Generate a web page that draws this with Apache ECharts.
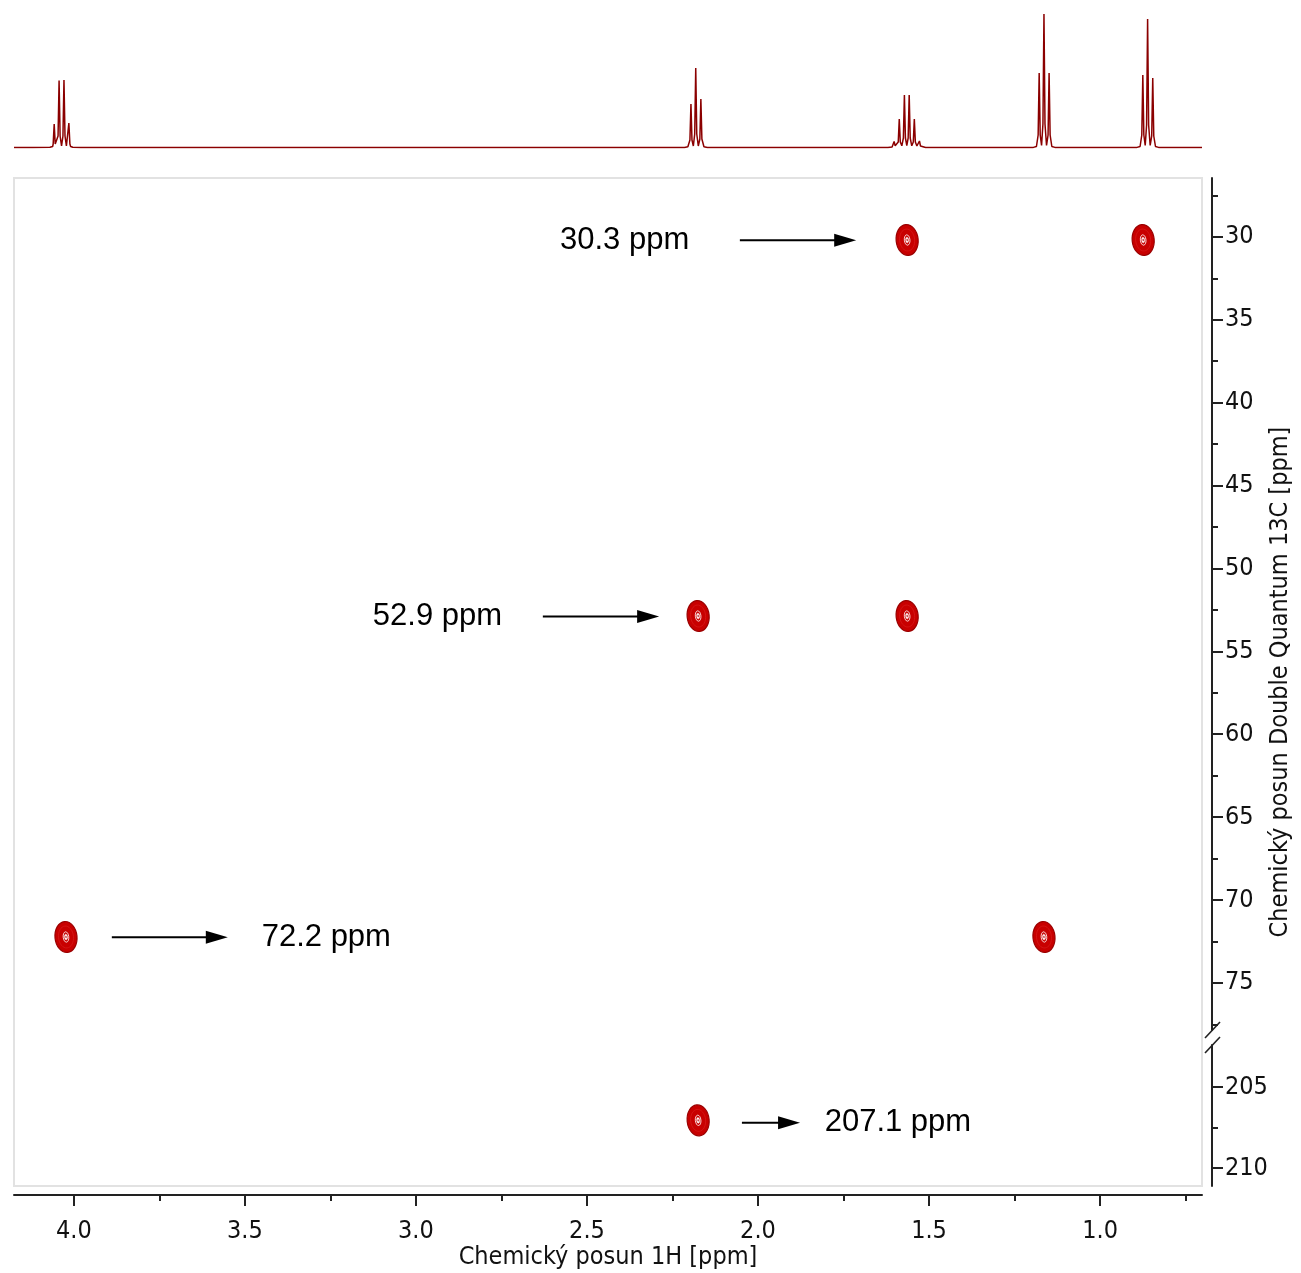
<!DOCTYPE html>
<html>
<head>
<meta charset="utf-8">
<script src="https://cdn.jsdelivr.net/npm/echarts@6.0.0/dist/echarts.min.js"></script>
<style>
html,body{margin:0;padding:0;background:#fff;}
#chart{width:1301px;height:1273px;}
</style>
</head>
<body>
<div id="chart"></div>
<script>
// ---------- data ----------
const X_MIN = 0.702, X_MAX = 4.175;            // 1H axis range (ppm)
const Y_UPPER = [26.45, 77.84];                 // upper 13C DQ segment (ppm)
const Y_LOWER = [202.4, 211.1];                 // lower 13C DQ segment (ppm)

const xTicks = [4.0, 3.5, 3.0, 2.5, 2.0, 1.5, 1.0];
const xMinorTicks = [3.75, 3.25, 2.75, 2.25, 1.75, 1.25, 0.75];
const yUpperTicks = [30, 35, 40, 45, 50, 55, 60, 65, 70, 75];
const yUpperMinorTicks = [27.5, 32.5, 37.5, 42.5, 47.5, 52.5, 57.5, 62.5, 67.5, 72.5, 77.5];
const yLowerTicks = [205, 210];
const yLowerMinorTicks = [207.5];

// 1D 1H projection [ppm, intensity]
const spectrum1H = [
  [4.175, 0.5], [4.120, 0.6], [4.070, 0.8], [4.062, 1.5], [4.0605, 4], [4.0575, 24], [4.0545, 4], [4.0503, 2],
  [4.0462, 12], [4.0432, 67.5], [4.0402, 12], [4.0360, 2], [4.0319, 12], [4.0289, 68], [4.0259, 12],
  [4.0218, 2], [4.0176, 4], [4.0146, 25], [4.0116, 4], [4.0095, 1.5], [4.003, 0.8], [3.98, 0.5],
  [3.50, 0.4], [3.00, 0.5], [2.60, 0.4], [2.30, 0.5],
  [2.215, 0.6], [2.205, 1.2], [2.199, 8], [2.196, 44], [2.193, 8], [2.189, 2], [2.185, 14], [2.182, 80],
  [2.179, 14], [2.1745, 2], [2.170, 9], [2.167, 49], [2.164, 9], [2.158, 1.2], [2.148, 0.6],
  [1.90, 0.4], [1.70, 0.5],
  [1.620, 0.5], [1.608, 1], [1.605, 2], [1.602, 6.6], [1.599, 2.2], [1.5945, 2], [1.590, 6], [1.587, 29],
  [1.584, 6], [1.5795, 2.2], [1.575, 10], [1.572, 53], [1.569, 10], [1.565, 2.5], [1.561, 10], [1.558, 53],
  [1.555, 10], [1.5505, 2.2], [1.546, 6], [1.543, 29], [1.540, 6], [1.5355, 2], [1.531, 2.2], [1.528, 7],
  [1.525, 2], [1.521, 1], [1.510, 0.5],
  [1.35, 0.4],
  [1.195, 0.6], [1.186, 1.5], [1.181, 13], [1.178, 75], [1.175, 13], [1.171, 2.5], [1.167, 24], [1.164, 134],
  [1.161, 24], [1.1565, 2.5], [1.152, 13], [1.149, 75], [1.146, 13], [1.141, 1.5], [1.132, 0.6],
  [1.00, 0.4],
  [0.892, 0.6], [0.883, 1.5], [0.878, 13], [0.875, 73], [0.872, 13], [0.868, 2.5], [0.864, 23], [0.861, 129],
  [0.858, 23], [0.8535, 2.5], [0.849, 12], [0.846, 70], [0.843, 12], [0.838, 1.5], [0.829, 0.6],
  [0.76, 0.4], [0.702, 0.5]
];

// 2D cross peaks [1H ppm, 13C DQ ppm]
const crossPeaksUpper = [
  [1.564, 30.19], [0.874, 30.19],
  [2.175, 52.87], [1.564, 52.87],
  [4.023, 72.23], [1.164, 72.23]
];
const crossPeaksLower = [[2.175, 207.05]];

// annotations: label, label centre (1H ppm), row (13C ppm), arrow from / to (1H ppm)
const annLabels = ['30.3 ppm', '52.9 ppm', '72.2 ppm', '207.1 ppm'];
const annTextX  = [2.390, 2.937, 3.262, 1.591];
const annRowY   = [30.2, 52.9, 72.25, 207.2];
const annFrom   = [2.053, 2.629, 3.889, 2.047];
const annTo     = [1.713, 2.289, 3.550, 1.877];

// ---------- chart ----------
const AX_FONT = "'DejaVu Sans Condensed', 'DejaVu Sans', sans-serif";
const chart = echarts.init(document.getElementById('chart'), null, {renderer: 'canvas'});

function renderPeak(params, api) {
  const p = api.coord([api.value(0), api.value(1)]);
  return {
    type: 'group', x: p[0], y: p[1], rotation: 0.1,
    children: [
      {type: 'ellipse', shape: {cx: 0, cy: 0, rx: 11, ry: 15.5}, style: {fill: '#c80000', stroke: '#9a0000', lineWidth: 1.2}},
      {type: 'ellipse', shape: {cx: 0, cy: 0, rx: 7.5, ry: 11}, style: {fill: 'none', stroke: '#d41818', lineWidth: 0.8}},
      {type: 'ellipse', shape: {cx: 0, cy: 0, rx: 2.8, ry: 5.2}, style: {fill: 'none', stroke: '#ffffff', lineWidth: 0.8}},
      {type: 'ellipse', shape: {cx: 0, cy: 0, rx: 1.5, ry: 2.8}, style: {fill: '#ffffff', stroke: '#ffdddd', lineWidth: 0.5}},
      {type: 'ellipse', shape: {cx: 0, cy: 0, rx: 0.6, ry: 1.2}, style: {fill: '#aa0000'}}
    ]
  };
}

function annItems(idx) {
  return idx.map(i => [annTextX[i], annRowY[i], annFrom[i], annTo[i], i]);
}
function renderAnn(params, api) {
  const i = api.value(4);
  const s = api.coord([annFrom[i], annRowY[i]]);
  const e = api.coord([annTo[i], annRowY[i]]);
  const t = api.coord([annTextX[i], annRowY[i]]);
  const dir = e[0] > s[0] ? 1 : -1;
  const head = 22, half = 6.5;
  return {
    type: 'group',
    children: [
      {type: 'line', shape: {x1: s[0], y1: s[1], x2: e[0] - dir * head * 0.7, y2: e[1]}, style: {stroke: '#000', lineWidth: 2}},
      {type: 'polygon', shape: {points: [[e[0], e[1]], [e[0] - dir * head, e[1] - half], [e[0] - dir * head, e[1] + half]]}, style: {fill: '#000'}},
      {type: 'text', x: t[0], y: t[1], style: {text: annLabels[i], fill: '#000', fontSize: 31, fontFamily: "'Liberation Sans', Arial, sans-serif", align: 'center', verticalAlign: 'middle'}}
    ]
  };
}

const hiddenX = (gi) => ({type: 'value', gridIndex: gi, min: X_MIN, max: X_MAX, inverse: true, show: false, splitLine: {show: false}});

const option = {
  animation: false,
  backgroundColor: '#ffffff',
  grid: [
    {left: 14, right: 99, top: 12, height: 136},
    {left: 14, right: 99, top: 178, height: 852},
    {left: 14, right: 99, top: 1045, height: 141},
    {left: 14, right: 99, top: 178, height: 1008}
  ],
  xAxis: [
    hiddenX(0),
    hiddenX(1),
    {
      type: 'value', gridIndex: 2, min: X_MIN, max: X_MAX, inverse: true, position: 'bottom', offset: 9,
      splitLine: {show: false},
      axisLine: {show: true, onZero: false, lineStyle: {color: '#222', width: 2}},
      axisTick: {show: true, customValues: xTicks, length: 11, lineStyle: {color: '#222', width: 2}},
      axisLabel: {show: true, customValues: xTicks, formatter: v => Number(v).toFixed(1), fontSize: 25, fontFamily: AX_FONT, color: '#111', margin: 24},
      name: 'Chemický posun 1H [ppm]', nameLocation: 'middle', nameGap: 49,
      nameTextStyle: {fontSize: 25, fontFamily: AX_FONT, color: '#111'}
    },
    {
      type: 'value', gridIndex: 2, min: X_MIN, max: X_MAX, inverse: true, position: 'bottom', offset: 9,
      splitLine: {show: false},
      axisLine: {show: false, onZero: false},
      axisTick: {show: true, customValues: xMinorTicks, length: 6, lineStyle: {color: '#222', width: 2}},
      axisLabel: {show: false}
    },
    hiddenX(3)
  ],
  yAxis: [
    {type: 'value', gridIndex: 0, min: 0, max: 136, show: false, splitLine: {show: false}},
    {
      type: 'value', gridIndex: 1, min: Y_UPPER[0], max: Y_UPPER[1], inverse: true, position: 'right', offset: 10,
      splitLine: {show: false},
      axisLine: {show: true, onZero: false, lineStyle: {color: '#222', width: 2}},
      axisTick: {show: true, customValues: yUpperTicks, length: 11, lineStyle: {color: '#222', width: 2}},
      axisLabel: {show: true, customValues: yUpperTicks, fontSize: 25, fontFamily: AX_FONT, color: '#111', margin: 13}
    },
    {
      type: 'value', gridIndex: 1, min: Y_UPPER[0], max: Y_UPPER[1], inverse: true, position: 'right', offset: 10,
      splitLine: {show: false}, axisLine: {show: false, onZero: false},
      axisTick: {show: true, customValues: yUpperMinorTicks, length: 6, lineStyle: {color: '#222', width: 2}},
      axisLabel: {show: false}
    },
    {
      type: 'value', gridIndex: 2, min: Y_LOWER[0], max: Y_LOWER[1], inverse: true, position: 'right', offset: 10,
      splitLine: {show: false},
      axisLine: {show: true, onZero: false, lineStyle: {color: '#222', width: 2}},
      axisTick: {show: true, customValues: yLowerTicks, length: 11, lineStyle: {color: '#222', width: 2}},
      axisLabel: {show: true, customValues: yLowerTicks, fontSize: 25, fontFamily: AX_FONT, color: '#111', margin: 13}
    },
    {
      type: 'value', gridIndex: 2, min: Y_LOWER[0], max: Y_LOWER[1], inverse: true, position: 'right', offset: 10,
      splitLine: {show: false}, axisLine: {show: false, onZero: false},
      axisTick: {show: true, customValues: yLowerMinorTicks, length: 6, lineStyle: {color: '#222', width: 2}},
      axisLabel: {show: false}
    },
    {
      type: 'value', gridIndex: 3, min: 0, max: 1, position: 'right', offset: 10,
      splitLine: {show: false}, axisLine: {show: false}, axisTick: {show: false}, axisLabel: {show: false},
      name: 'Chemický posun Double Quantum 13C [ppm]', nameLocation: 'middle', nameRotate: 90, nameGap: 73,
      nameTextStyle: {fontSize: 25, fontFamily: AX_FONT, color: '#111'}
    }
  ],
  graphic: [
    {type: 'rect', z: -10, shape: {x: 14, y: 178, width: 1188, height: 1008}, style: {fill: 'none', stroke: '#e2e2e2', lineWidth: 2}},
    {type: 'line', z: 10, shape: {x1: 1205, y1: 1038, x2: 1220, y2: 1022}, style: {stroke: '#222', lineWidth: 1.6}},
    {type: 'line', z: 10, shape: {x1: 1205, y1: 1053, x2: 1220, y2: 1037}, style: {stroke: '#222', lineWidth: 1.6}}
  ],
  series: [
    {
      type: 'line', xAxisIndex: 0, yAxisIndex: 0, data: spectrum1H, showSymbol: false, symbol: 'none',
      lineStyle: {color: '#8b0000', width: 1.5}, silent: true
    },
    {type: 'custom', xAxisIndex: 1, yAxisIndex: 1, data: crossPeaksUpper, renderItem: renderPeak, silent: true},
    {type: 'custom', xAxisIndex: 2, yAxisIndex: 3, data: crossPeaksLower, renderItem: renderPeak, silent: true},
    {type: 'custom', xAxisIndex: 1, yAxisIndex: 1, data: annItems([0, 1, 2]), renderItem: renderAnn, silent: true, z: 5},
    {type: 'custom', xAxisIndex: 2, yAxisIndex: 3, data: annItems([3]), renderItem: renderAnn, silent: true, z: 5}
  ]
};
chart.setOption(option);
</script>
</body>
</html>
